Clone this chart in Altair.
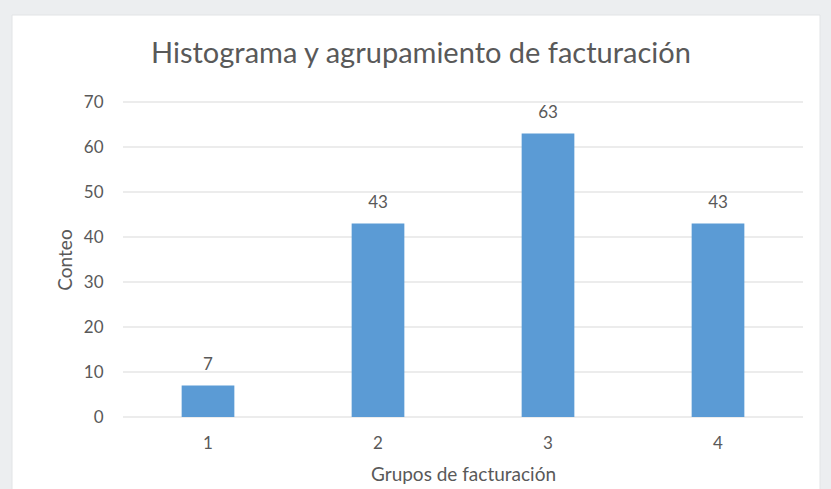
import altair as alt
import pandas as pd

groups = ["1", "2", "3", "4"]
counts = [7, 43, 63, 43]
y_ticks = [0, 10, 20, 30, 40, 50, 60, 70]

title_text = "Histograma y agrupamiento de facturación"
x_title = "Grupos de facturación"
y_title = "Conteo"

df = pd.DataFrame({"grupo": groups, "conteo": counts})
grid_df = pd.DataFrame({"v": y_ticks})

FONT = "Lato"
TXT = "#595959"
W, H = 680, 315

panel = alt.Chart(pd.DataFrame({"a": [0]})).mark_rect(
    fill="white", stroke="#e2e4e6", strokeWidth=1
).encode(
    x=alt.value(-111), x2=alt.value(697), y=alt.value(-87), y2=alt.value(400)
)

title_mark = alt.Chart(pd.DataFrame({"t": [title_text]})).mark_text(
    font=FONT, fontSize=29, color=TXT, baseline="alphabetic", align="center"
).encode(
    x=alt.value(298), y=alt.value(-39), text="t:N"
)

yscale = alt.Scale(domain=[0, 70], nice=False)

grid = alt.Chart(grid_df).mark_rule(color="#d9d9d9", strokeWidth=1).encode(
    y=alt.Y("v:Q", scale=yscale,
            axis=alt.Axis(values=y_ticks, grid=False, domain=False, ticks=False,
                          labelPadding=20, labelFontSize=17, labelColor=TXT,
                          labelFont=FONT, title=y_title, titleFont=FONT,
                          titleFontSize=19, titleColor=TXT, titleFontWeight="normal",
                          titlePadding=8, zindex=1)),
    x=alt.value(0), x2=alt.value(W),
)

xenc = alt.X("grupo:N", sort=groups,
             scale=alt.Scale(paddingInner=0.69, paddingOuter=0.345),
             axis=alt.Axis(labelAngle=0, domain=False, ticks=False, grid=False,
                           labelPadding=18, labelFontSize=17, labelColor=TXT,
                           labelFont=FONT, title=x_title, titleFont=FONT,
                           titleFontSize=19, titleColor=TXT, titleFontWeight="normal",
                           titlePadding=14, zindex=1))

bars = alt.Chart(df).mark_bar(color="#5b9bd5").encode(
    x=xenc,
    y=alt.Y("conteo:Q", scale=yscale),
)

labels = alt.Chart(df).mark_text(
    baseline="alphabetic", dy=-16, fontSize=17, font=FONT, color=TXT
).encode(
    x=alt.X("grupo:N", sort=groups),
    y=alt.Y("conteo:Q", scale=yscale),
    text="conteo:Q",
)

chart = alt.layer(panel, title_mark, grid, bars, labels).properties(
    width=W, height=H,
    background="#eceef0",
    padding={"left": 123, "top": 102, "right": 28, "bottom": 72},
    autosize=alt.AutoSizeParams(type="none"),
).configure_view(stroke=None)

chart.save("out.html", embed_options={"renderer": "svg", "actions": False})
